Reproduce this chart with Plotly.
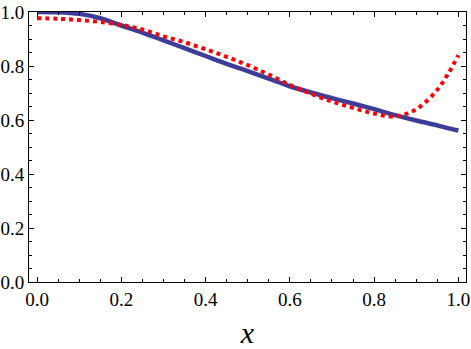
import plotly.graph_objects as go

# sample points
x_vals = [0.0, 0.05, 0.1, 0.15, 0.2, 0.25, 0.3, 0.35, 0.4, 0.45, 0.5,
          0.55, 0.6, 0.65, 0.7, 0.75, 0.8, 0.85, 0.9, 0.95, 0.975, 1.0]
exact = [1.000, 0.999, 0.993, 0.977, 0.950, 0.924, 0.895, 0.866, 0.837, 0.808, 0.781,
         0.753, 0.725, 0.702, 0.681, 0.661, 0.640, 0.618, 0.598, 0.580, 0.570, 0.561]
approx = [0.977, 0.975, 0.970, 0.963, 0.952, 0.935, 0.910, 0.888, 0.862, 0.834, 0.803,
          0.768, 0.730, 0.697, 0.668, 0.645, 0.624, 0.613, 0.640, 0.712, 0.770, 0.840]

x_ticks = [0.0, 0.2, 0.4, 0.6, 0.8, 1.0]
y_ticks = [0.0, 0.2, 0.4, 0.6, 0.8, 1.0]

SERIF = "Liberation Serif"

fig = go.Figure()
fig.add_trace(go.Scatter(x=x_vals, y=exact, mode="lines",
                         line=dict(color="#3d3d99", width=4.5, shape="spline")))
fig.add_trace(go.Scatter(x=x_vals, y=approx, mode="lines",
                         line=dict(color="#ff0000", width=4, dash="dot", shape="spline")))

axis_common = dict(
    showline=True, linecolor="black", linewidth=1, mirror="allticks",
    ticks="inside", ticklen=5, tickcolor="black", tickwidth=1,
    minor=dict(dtick=0.05, ticks="inside", ticklen=3, tickcolor="black", tickwidth=1),
    showgrid=False, zeroline=False, tickformat=".1f", automargin=False,
    tickfont=dict(family=SERIF, size=19, color="black"),
)

fig.update_xaxes(range=[-0.019, 1.018], tickvals=x_ticks, **axis_common,
                 title=dict(text="<i>x</i>", standoff=13,
                            font=dict(family=SERIF, size=30, color="black")))
fig.update_yaxes(range=[0, 1.0], tickvals=y_ticks, **axis_common)

fig.update_layout(
    width=471, height=349,
    margin=dict(l=29, r=5, t=12, b=67),
    plot_bgcolor="white", paper_bgcolor="white",
    showlegend=False,
    font=dict(family=SERIF),
)

# drop the browser's default body margin so the figure sits at the corner
fig.write_html("out.html", config={"displayModeBar": False},
               post_script="document.body.style.margin='0';")
